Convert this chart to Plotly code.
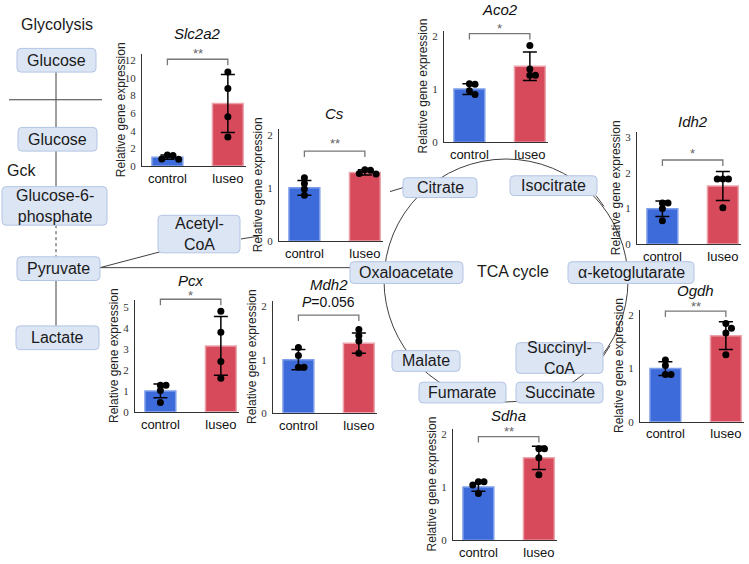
import plotly.graph_objects as go

W, H = 749, 564

# ---------------- data ----------------
genes = ["Slc2a2", "Cs", "Aco2", "Idh2", "Pcx", "Mdh2", "Ogdh", "Sdha"]
groups = ["control", "luseo"]
control_mean = [1.0, 1.0, 1.0, 0.99, 1.0, 1.0, 1.0, 1.0]
luseo_mean = [7.1, 1.29, 1.43, 1.63, 3.15, 1.31, 1.62, 1.55]
control_sd = [0.25, 0.14, 0.1, 0.22, 0.33, 0.19, 0.13, 0.08]
luseo_sd = [3.3, 0.05, 0.27, 0.41, 1.4, 0.19, 0.26, 0.22]
control_pts = [[1.25, 1.2, 0.8, 0.75], [1.19, 1.08, 0.98, 0.86], [1.1, 1.09, 0.97, 0.9],
               [1.15, 1.15, 1.0, 0.65], [1.27, 1.27, 1.02, 0.45], [1.23, 1.08, 0.86, 0.86],
               [1.16, 1.06, 0.89, 0.89], [1.1, 1.1, 1.04, 0.88]]
luseo_pts = [[10.7, 8.8, 5.6, 3.3], [1.34, 1.33, 1.27, 1.26], [1.82, 1.38, 1.26, 1.26],
             [1.83, 1.83, 1.83, 1.02], [4.8, 3.8, 2.4, 1.6], [1.57, 1.45, 1.35, 1.12],
             [1.85, 1.76, 1.67, 1.26], [1.72, 1.72, 1.55, 1.23]]
significance = ["**", "**", "*", "*", "*", "<i>P</i>=0.056", "**", "**"]
y_ticks = [[0, 2, 4, 6, 8, 10, 12], [0, 1, 2], [0, 1, 2], [0, 1, 2, 3],
           [0, 1, 2, 3, 4, 5], [0, 1, 2], [0, 1, 2], [0, 1, 2]]
y_max = [12.7, 2.1, 2.1, 3.14, 5.33, 2.1, 2.1, 2.1]
y_label = "Relative gene expression"

# ---------------- layout config (pixels) ----------------
PANEL_W, PANEL_H = 104, 113
X_RANGE = [-0.42, 1.3]
panel_left = [142, 279, 444, 637, 135, 273, 640, 453]
panel_top = [54, 130, 30, 133, 303, 304, 313, 433]
title_y = [33, 114, 9, 122, 283, 287, 293, 420]
sig_y = [53, 144, 28, 154, 298, 305, 309, 436]
bracket_y = [59, 152, 33, 161, 302, 318, 314, 441]
BRACKET_DROP = 6

BLUE, BLUE_EDGE = "#3E6BDA", "#7E9EEA"
RED, RED_EDGE = "#D64A5B", "#EBA3AC"
SANS = "Liberation Sans, Arial, sans-serif"
SERIF = "Liberation Serif, Times New Roman, serif"


def px(x):
    return x / W


def py(y):
    return 1 - y / H


def swarm(vals, center, ymax, d=7.0):
    xunit = PANEL_W / (X_RANGE[1] - X_RANGE[0])
    placed, xs = [], []
    for v in vals:
        ypix = v / ymax * PANEL_H
        xo = 0.0
        for k in [0, 1, -1, 2, -2, 3, -3]:
            xo = k * d * 0.8
            if all((xo - a) ** 2 + (ypix - b) ** 2 >= (d * 0.7) ** 2 for a, b in placed):
                break
        placed.append((xo, ypix))
        xs.append(center + xo / xunit)
    return xs


def note(text, xref, yref, x, y, size, color="#1a1a1a", family=SANS, angle=0):
    return dict(text=text, xref=xref, yref=yref, x=x, y=y, xanchor="center", yanchor="middle",
                showarrow=False, textangle=angle, font=dict(family=family, size=size, color=color))


fig = go.Figure()
layout = {}
annotations = []
shapes = []

# ---------------- pathway diagram ----------------
line_col = "#404040"
shapes.append(dict(type="circle", xref="paper", yref="paper",
                   x0=px(384), x1=px(628), y0=py(406), y1=py(160),
                   line=dict(color=line_col, width=1)))

links = [((56, 72), (56, 128), "solid"), ((56, 152), (56, 188), "solid"),
         ((56, 227), (56, 259), "dot"), ((56, 283), (56, 329), "solid"),
         ((9, 100), (102, 100), "solid"), ((100, 270), (350, 270), "solid"),
         ((100, 270), (160, 254), "solid"), ((241, 241), (259, 238), "solid"),
         ((390, 193), (403, 189), "solid"), ((596, 197), (604, 208), "solid"),
         ((603, 360), (610, 349), "solid")]
for (a, b, dash) in links:
    shapes.append(dict(type="line", xref="paper", yref="paper",
                       x0=px(a[0]), y0=py(a[1]), x1=px(b[0]), y1=py(b[1]),
                       line=dict(color=line_col, width=1, dash=dash)))


def rrect(x0, y0, x1, y1, r=4):
    rx, ry = r / W, r / H
    X0, X1, Y0, Y1 = px(x0), px(x1), py(y0), py(y1)
    return (f"M {X0+rx},{Y0} L {X1-rx},{Y0} Q {X1},{Y0} {X1},{Y0-ry} "
            f"L {X1},{Y1+ry} Q {X1},{Y1} {X1-rx},{Y1} L {X0+rx},{Y1} "
            f"Q {X0},{Y1} {X0},{Y1+ry} L {X0},{Y0-ry} Q {X0},{Y0} {X0+rx},{Y0} Z")


nodes = [("Glucose", 17, 48, 96, 72), ("Glucose", 18, 128, 97, 152),
         ("Glucose-6-<br>phosphate", 2, 188, 107, 227), ("Pyruvate", 17, 259, 100, 283),
         ("Lactate", 16, 329, 99, 353), ("Acetyl-<br>CoA", 158, 217, 240, 255),
         ("Citrate", 403, 179, 477, 199), ("Isocitrate", 510, 177, 597, 197),
         ("Oxaloacetate", 350, 264, 463, 286), ("α-ketoglutarate", 568, 264, 694, 286),
         ("Malate", 392, 354, 460, 375), ("Fumarate", 419, 386, 506, 407),
         ("Succinate", 516, 386, 603, 407), ("Succinyl-<br>CoA", 516, 346, 603, 377)]
for (label, x0, y0, x1, y1) in nodes:
    shapes.append(dict(type="path", xref="paper", yref="paper", path=rrect(x0, y0, x1, y1),
                       fillcolor="#DCE5F4", line=dict(color="#B3C5E4", width=1)))
    annotations.append(note(label, "paper", "paper", px((x0 + x1) / 2), py((y0 + y1) / 2), 16))

for (label, x, y) in [("Glycolysis", 57, 24), ("Gck", 21, 172), ("TCA cycle", 513, 274)]:
    annotations.append(note(label, "paper", "paper", px(x), py(y), 16))

# ---------------- bar panels ----------------
for i, g in enumerate(genes):
    sfx = "" if i == 0 else str(i + 1)
    xa, ya = "x" + sfx, "y" + sfx
    left, top = panel_left[i], panel_top[i]
    layout["xaxis" + sfx] = dict(
        domain=[px(left), px(left + PANEL_W)], range=X_RANGE, anchor=ya,
        tickvals=[0, 1], ticktext=groups, showline=True, linecolor="#333", linewidth=1.3,
        ticks="", showgrid=False, zeroline=False, fixedrange=True,
        tickfont=dict(family=SANS, size=13, color="#111"))
    layout["yaxis" + sfx] = dict(
        domain=[py(top + PANEL_H), py(top)], range=[0, y_max[i]], anchor=xa,
        tickvals=y_ticks[i], showline=True, linecolor="#333", linewidth=1.3,
        ticks="", showgrid=False, zeroline=False, fixedrange=True, ticklabelstandoff=3,
        tickfont=dict(family=SERIF, size=11, color="#333"))

    fig.add_trace(go.Bar(
        x=[0, 1], y=[control_mean[i], luseo_mean[i]], width=0.51, xaxis=xa, yaxis=ya,
        marker=dict(color=[BLUE, RED], line=dict(color=[BLUE_EDGE, RED_EDGE], width=1.5)),
        error_y=dict(type="data", array=[control_sd[i], luseo_sd[i]], visible=True,
                     color="black", thickness=1.5, width=7),
        showlegend=False, hoverinfo="skip"))
    for c, pts in enumerate([control_pts[i], luseo_pts[i]]):
        fig.add_trace(go.Scatter(
            x=swarm(pts, c, y_max[i]), y=pts, mode="markers", xaxis=xa, yaxis=ya,
            marker=dict(color="black", size=7), showlegend=False, hoverinfo="skip",
            cliponaxis=False))

    annotations.append(note(f"<i>{g}</i>", xa, "paper", 0.5, py(title_y[i]), 15, "#111"))
    is_star = "*" in significance[i]
    annotations.append(note(significance[i], xa, "paper", 0.5, py(sig_y[i]),
                            13 if is_star else 14, "#666" if is_star else "#111"))
    by = bracket_y[i]
    shapes.append(dict(type="path", xref=xa, yref="paper",
                       path=f"M 0,{py(by + BRACKET_DROP)} L 0,{py(by)} L 1,{py(by)} L 1,{py(by + BRACKET_DROP)}",
                       line=dict(color="#777", width=1.3)))
    annotations.append(note(y_label, "paper", "paper", px(left - 21), py(top + PANEL_H / 2),
                            12, "#222", angle=-90))

fig.update_layout(
    width=W, height=H, autosize=False, margin=dict(l=0, r=0, t=0, b=0),
    paper_bgcolor="white", plot_bgcolor="rgba(0,0,0,0)",
    shapes=shapes, annotations=annotations, **layout)

fig.write_html("out.html", config={"displayModeBar": False},
               post_script="document.body.style.margin='0px';")
